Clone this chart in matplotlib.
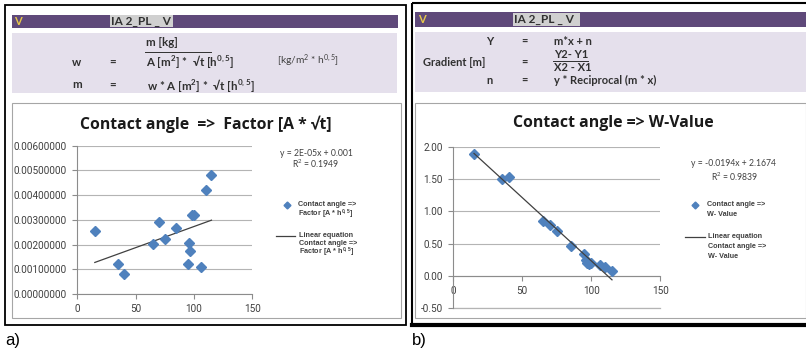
import matplotlib
matplotlib.use("Agg")
import matplotlib.pyplot as plt
from matplotlib.patches import Rectangle
import numpy as np

plt.rcParams['mathtext.default'] = 'regular'

# ---------------- data ----------------
contact_angle = [15, 35, 40, 65, 70, 75, 85, 95, 96, 97, 98, 100, 106, 110, 115]
factor_values = [0.00255, 0.00120, 0.00080, 0.00203, 0.00291, 0.00223, 0.00267,
                 0.00121, 0.00208, 0.00174, 0.00319, 0.00319, 0.00109, 0.00422, 0.00482]
w_values = [1.90, 1.50, 1.53, 0.85, 0.79, 0.69, 0.46, 0.33, 0.24, 0.20, 0.18, 0.19,
            0.17, 0.14, 0.08]
# trend lines as drawn
trend_a_slope, trend_a_intercept = 1.71e-5, 0.00102
trend_b_slope, trend_b_intercept = -0.0197, 2.20
trend_x = [15, 115]

x_ticks = [0, 50, 100, 150]
a_yticks = [0.0, 0.001, 0.002, 0.003, 0.004, 0.005, 0.006]
b_yticks = [-0.5, 0.0, 0.5, 1.0, 1.5, 2.0]

W, H = 806, 353
fig = plt.figure(figsize=(W / 100, H / 100), dpi=100)
bg = fig.add_axes([0, 0, 1, 1])
bg.set_xlim(0, W)
bg.set_ylim(H, 0)
bg.axis('off')

PURPLE = '#5f497a'
LAV = '#e5e0ec'
BLUE = '#4f81bd'
HDR = 'Lato'
GRID = '#b4b4b4'

def rect(x, y, w, h, fc='none', ec='none', lw=1.0, z=1):
    bg.add_patch(Rectangle((x, y), w, h, facecolor=fc, edgecolor=ec, linewidth=lw, zorder=z))

hkw = dict(fontsize=8.3, fontweight='bold', family=HDR, color='#303030', va='center', zorder=3)
hkw2 = dict(hkw, fontsize=8.0)
tagkw = dict(color='#303030', fontsize=8.5, fontweight='bold', family=HDR, va='center', zorder=3)
vkw = dict(color='#e8c84a', fontsize=8, fontweight='bold', family=HDR, va='center', zorder=3)

# ---- panel a frame ----
rect(5, 5, 401, 320, ec='black', lw=1.3, z=5)
rect(12, 15, 386, 13, fc=PURPLE)
rect(110, 15, 63, 12, fc='#d0d0d0', z=2)
bg.text(14, 21.5, 'V', **vkw)
bg.text(111, 21.5, 'IA 2_PL _ V', **tagkw)
rect(12, 33, 385, 60, fc=LAV)
rect(12, 103, 389, 215, fc='white', ec='#a6a6a6', lw=0.8)

bg.text(146, 43, 'm [kg]', **hkw)
bg.plot([145, 211], [52, 52], color='#303030', lw=0.7, zorder=3)
bg.text(146, 61, r'A [m$^{2}$] *  √t [h$^{0,5}$]', **hkw)
bg.text(77, 62, 'w', ha='center', **hkw)
bg.text(113, 62, '=', ha='center', **hkw)
bg.text(277, 61, r'[kg/m$^{2}$ * h$^{0,5}$]', fontsize=7.3, family=HDR, color='#404040', va='center', zorder=3)
bg.text(77, 85, 'm', ha='center', **hkw)
bg.text(113, 85, '=', ha='center', **hkw)
bg.text(147, 85, r'w * A [m$^{2}$] *  √t [h$^{0,5}$]', **hkw)

# ---- panel b frame ----
rect(412, 3, 400, 322, ec='black', lw=1.5, z=5)
bg.plot([412, 806], [325, 325], color='black', lw=3, zorder=5)
rect(415, 12, 391, 15, fc=PURPLE)
rect(513, 13, 67, 12.5, fc='#d0d0d0', z=2)
bg.text(418, 19.5, 'V', **vkw)
bg.text(514, 19.5, 'IA 2_PL _ V', **tagkw)
rect(415, 32, 391, 60, fc=LAV)
rect(415, 103, 391, 215, fc='white', ec='#a6a6a6', lw=0.8)
bg.text(493, 41.5, 'Y', ha='right', **hkw2)
bg.text(524, 41.5, '=', ha='center', **hkw2)
bg.text(554, 41.5, 'm*x + n', **hkw2)
bg.text(485, 62, 'Gradient [m]', ha='right', **hkw2)
bg.text(524, 62, '=', ha='center', **hkw2)
bg.text(554, 55, 'Y2- Y1', **hkw2)
bg.plot([553, 588], [61, 61], color='#303030', lw=0.7, zorder=3)
bg.text(554, 67.5, 'X2 - X1', **hkw2)
bg.text(493, 80.5, 'n', ha='right', **hkw2)
bg.text(524, 80.5, '=', ha='center', **hkw2)
bg.text(554, 80.5, 'y * Reciprocal (m * x)', **hkw2)

# sub-labels
bg.text(5, 341, 'a)', fontsize=12, family='Liberation Sans', va='center')
bg.text(412, 341, 'b)', fontsize=12, family='Liberation Sans', va='center')

# ---------------- chart axes ----------------
def make_ax(x0, x1, ytop, ybot):
    return fig.add_axes([x0 / W, (H - ybot) / H, (x1 - x0) / W, (ybot - ytop) / H])

def style(ax, yfmt):
    ax.set_facecolor('none')
    for s in ['top', 'right']:
        ax.spines[s].set_visible(False)
    for s in ['left', 'bottom']:
        ax.spines[s].set_color('#8c8c8c')
        ax.spines[s].set_linewidth(0.8)
    ax.set_xlim(0, 150)
    ax.set_xticks(x_ticks)
    ax.tick_params(axis='both', colors='#8c8c8c', labelcolor='#404040', labelsize=7.2,
                   length=3.5, width=0.8, direction='out')
    ax.tick_params(axis='x', pad=4)
    ax.tick_params(axis='y', pad=4)
    ax.yaxis.set_major_formatter(plt.FuncFormatter(lambda v, p: yfmt.format(v)))
    ax.grid(axis='y', color=GRID, linewidth=0.8)
    ax.set_axisbelow(True)

# chart a
axa = make_ax(77.3, 252.3, 145.7, 294.0)
axa.set_ylim(0, 0.006)
axa.set_yticks(a_yticks)
style(axa, '{:.8f}')
for lab in axa.get_xticklabels() + axa.get_yticklabels():
    lab.set_family('Roboto')
axa.plot(contact_angle, factor_values, linestyle='none', marker='D', markersize=5,
         color=BLUE, markeredgecolor=BLUE, zorder=3)
axa.plot(trend_x, [trend_a_slope * v + trend_a_intercept for v in trend_x],
         color='#404040', lw=0.9, zorder=2)

# chart b
axb = make_ax(453.3, 660.3, 147.3, 309.0)
axb.set_ylim(-0.52, 2.0)
axb.set_yticks(b_yticks)
style(axb, '{:.2f}')
axb.spines['bottom'].set_position(('data', 0))
axb.spines['left'].set_bounds(-0.5, 2.0)
axb.axhline(b_yticks[0], color=GRID, linewidth=0.9, zorder=1.5, clip_on=False)
for lab in axb.get_xticklabels() + axb.get_yticklabels():
    lab.set_family('Roboto')
axb.plot(contact_angle, w_values, linestyle='none', marker='D', markersize=5,
         color=BLUE, markeredgecolor=BLUE, zorder=3)
axb.plot(trend_x, [trend_b_slope * v + trend_b_intercept for v in trend_x],
         color='#404040', lw=0.9, zorder=4)

# titles
bg.text(206, 124, 'Contact angle  =>  Factor [A * √t]', fontsize=11.3, fontweight='bold',
        family='Open Sans', ha='center', va='center', color='#1a1a1a', zorder=3)
bg.text(613, 123, 'Contact angle => W-Value', fontsize=11.4, fontweight='bold',
        family='Open Sans', ha='center', va='center', color='#1a1a1a', zorder=3)

# equations
ekw = dict(fontsize=6.2, family='Lato', color='#404040', ha='center', va='center', zorder=3)
bg.text(316, 154, 'y = 2E-05x + 0.001', **ekw)
bg.text(316, 164, r'R$^{2}$ = 0.1949', **ekw)
bg.text(733, 164, 'y = -0.0194x + 2.1674', **ekw)
bg.text(735, 177, r'R$^{2}$ = 0.9839', **ekw)

# legends
lkw = dict(fontsize=5.2, fontweight='bold', family='Liberation Sans', color='#404040', va='center', zorder=3)
bg.plot([287], [205], marker='D', markersize=3.5, color=BLUE, zorder=3)
bg.text(298, 205, 'Contact angle =>', **lkw)
bg.text(298, 214, r'Factor [A * h$^{0,5}$]', **lkw)
bg.plot([276, 295], [236, 236], color='#404040', lw=0.9, zorder=3)
bg.text(299, 235.5, 'Linear equation', **lkw)
bg.text(299, 243.5, 'Contact angle =>', **lkw)
bg.text(299, 252.5, r'Factor [A * h$^{0,5}$]', **lkw)

bg.plot([695], [205], marker='D', markersize=3.5, color=BLUE, zorder=3)
bg.text(707, 205, 'Contact angle =>', **lkw)
bg.text(707, 214, 'W- Value', **lkw)
bg.plot([685, 705], [237, 237], color='#404040', lw=0.9, zorder=3)
bg.text(708, 237, 'Linear equation', **lkw)
bg.text(708, 247, 'Contact angle =>', **lkw)
bg.text(708, 256, 'W- Value', **lkw)

fig.savefig('out.png', dpi=100)
